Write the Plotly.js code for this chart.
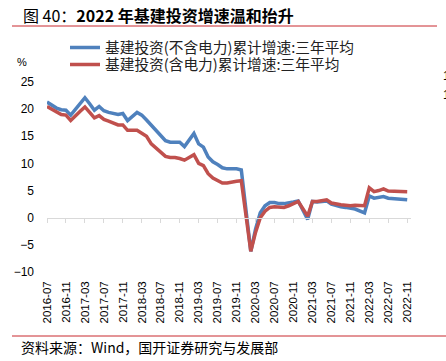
<!DOCTYPE html>
<html><head><meta charset="utf-8">
<script src="https://cdn.plot.ly/plotly-3.0.1.min.js"></script>
<style>body{margin:0;background:#fff;} #chart{width:446px;height:361px;}</style>
</head><body><div id="chart"></div>
<script>
const months = [
 "2016-07","2016-08","2016-09","2016-10","2016-11","2016-12",
 "2017-01","2017-02","2017-03","2017-04","2017-05","2017-06","2017-07","2017-08","2017-09","2017-10","2017-11","2017-12",
 "2018-01","2018-02","2018-03","2018-04","2018-05","2018-06","2018-07","2018-08","2018-09","2018-10","2018-11","2018-12",
 "2019-01","2019-02","2019-03","2019-04","2019-05","2019-06","2019-07","2019-08","2019-09","2019-10","2019-11","2019-12",
 "2020-01","2020-02","2020-03","2020-04","2020-05","2020-06","2020-07","2020-08","2020-09","2020-10","2020-11","2020-12",
 "2021-01","2021-02","2021-03","2021-04","2021-05","2021-06","2021-07","2021-08","2021-09","2021-10","2021-11","2021-12",
 "2022-01","2022-02","2022-03","2022-04","2022-05","2022-06","2022-07","2022-08","2022-09","2022-10","2022-11"
];
// 基建投资(不含电力)累计增速:三年平均
const exPower = [
 21.3,20.7,20.2,19.9,19.8,18.9,
 null,20.9,22.1,21.0,19.8,20.5,19.7,19.4,19.2,19.0,19.2,17.9,
 null,19.4,18.9,18.0,17.0,16.0,15.2,14.2,13.9,13.9,13.9,13.1,
 null,15.5,13.6,13.0,11.2,10.3,9.8,9.2,9.0,9.0,9.0,8.8,
 null,-6.2,-2.1,0.9,2.2,2.8,2.8,2.6,2.6,2.7,2.9,3.1,
 null,-0.3,3.0,2.9,3.0,3.1,2.5,2.2,2.0,1.9,1.7,1.6,
 null,0.9,4.0,3.6,3.8,3.9,3.6,3.5,3.4,3.3,3.3
];
// 基建投资(含电力)累计增速:三年平均
const inclPower = [
 20.5,20.0,19.4,19.0,18.9,17.9,
 null,19.6,20.4,19.4,18.4,18.8,18.1,17.8,17.4,17.1,17.1,16.1,
 null,16.1,15.6,15.0,13.6,12.8,12.0,11.3,11.1,11.1,10.9,10.6,
 null,11.6,10.0,9.6,8.1,7.3,6.9,6.4,6.4,6.6,6.7,6.8,
 null,-6.2,-2.7,0.0,1.2,1.9,2.0,1.9,1.9,2.2,2.6,3.0,
 null,0.3,3.0,3.0,3.1,3.3,2.7,2.5,2.4,2.3,2.2,2.3,
 null,2.2,5.5,4.8,5.0,5.3,4.9,4.9,4.9,4.9,4.8
];
const tickMonths = ["2016-07","2016-11","2017-03","2017-07","2017-11","2018-03","2018-07","2018-11","2019-03","2019-07","2019-11","2020-03","2020-07","2020-11","2021-03","2021-07","2021-11","2022-03","2022-07","2022-11"];
const yTicks = [-10,-5,0,5,10,15,20,25];
const seriesNames = ["基建投资(不含电力)累计增速:三年平均","基建投资(含电力)累计增速:三年平均"];

const W=446,H=361,ML=47,MR=35,MT=82,MB=89;
const PW=W-ML-MR, PH=H-MT-MB;
const fx=px=>(px-ML)/PW, fy=py=>(H-MB-py)/PH;
const cjk='"Noto Sans CJK SC", "Noto Sans", sans-serif';
const latin='"Liberation Sans", Arial, sans-serif';

const traces=[
 {x:months,y:exPower,type:'scatter',mode:'lines',name:seriesNames[0],connectgaps:true,legend:'legend',
  line:{color:'#4F81BD',width:3.5},hoverinfo:'skip'},
 {x:months,y:inclPower,type:'scatter',mode:'lines',name:seriesNames[1],connectgaps:true,legend:'legend2',
  line:{color:'#C0504D',width:3.5},hoverinfo:'skip'},
 {x:months,y:months.map(()=>null),xaxis:'x2',type:'scatter',mode:'lines',showlegend:false,hoverinfo:'skip'}
];
const xr=[0,76.8];
const legendBase={xref:'paper',yref:'paper',x:fx(65),xanchor:'left',yanchor:'middle',
   font:{family:cjk,size:14.7,color:'#222'},bgcolor:'rgba(0,0,0,0)',itemwidth:30};
const layout={
 width:W,height:H,margin:{l:ML,r:MR,t:MT,b:MB,pad:0,autoexpand:false},
 paper_bgcolor:'#fff',plot_bgcolor:'rgba(0,0,0,0)',
 showlegend:true,
 legend:Object.assign({},legendBase,{y:fy(48)}),
 legend2:Object.assign({},legendBase,{y:fy(65)}),
 xaxis:{type:'category',categoryorder:'array',categoryarray:months,range:xr,automargin:false,
   tickmode:'array',tickvals:tickMonths,ticktext:tickMonths,tickangle:-90,
   ticks:'',showline:false,showgrid:false,zeroline:false,ticklabelstandoff:6,
   tickfont:{family:latin,size:11.5,color:'#000'}},
 xaxis2:{type:'category',categoryorder:'array',categoryarray:months,range:xr,overlaying:'x',
   anchor:'free',position:10/35,side:'bottom',automargin:false,
   tickmode:'array',tickvals:tickMonths,showticklabels:false,
   ticks:'outside',ticklen:4,tickcolor:'#D9D9D9',tickwidth:1,
   showline:true,linecolor:'#D9D9D9',linewidth:1,showgrid:false,zeroline:false},
 yaxis:{range:[-10,25],tickmode:'array',tickvals:yTicks,ticks:'',showline:false,showgrid:false,automargin:false,
   zeroline:false,ticklabelstandoff:12,tickfont:{family:latin,size:12,color:'#000'}},
 annotations:[
  {xref:'paper',yref:'paper',x:fx(21),y:fy(15),xanchor:'left',yanchor:'middle',showarrow:false,
   text:'图 40：<b>2022 年基建投资增速温和抬升</b>',font:{family:cjk,size:16,color:'#000'}},
  {xref:'paper',yref:'paper',x:fx(22),y:fy(62),xanchor:'center',yanchor:'middle',showarrow:false,
   text:'%',font:{family:latin,size:11,color:'#000'}},
  {xref:'paper',yref:'paper',x:fx(19),y:fy(347),xanchor:'left',yanchor:'middle',showarrow:false,
   text:'资料来源：Wind，国开证券研究与发展部',font:{family:cjk,size:14,color:'#000'}},
  {xref:'paper',yref:'paper',x:fx(441),y:fy(76),xanchor:'left',yanchor:'middle',showarrow:false,
   text:'1',font:{family:latin,size:12,color:'#000'}},
  {xref:'paper',yref:'paper',x:fx(441),y:fy(95),xanchor:'left',yanchor:'middle',showarrow:false,
   text:'1',font:{family:latin,size:12,color:'#000'}}
 ],
 shapes:[
  {type:'line',xref:'paper',yref:'paper',x0:fx(12),x1:fx(437),y0:fy(26),y1:fy(26),line:{color:'#C8282E',width:1}},
  {type:'line',xref:'paper',yref:'paper',x0:fx(12),x1:fx(446),y0:fy(336),y1:fy(336),line:{color:'#C8282E',width:1}}
 ]
};
Plotly.newPlot('chart',traces,layout,{staticPlot:true,displayModeBar:false});
</script></body></html>
